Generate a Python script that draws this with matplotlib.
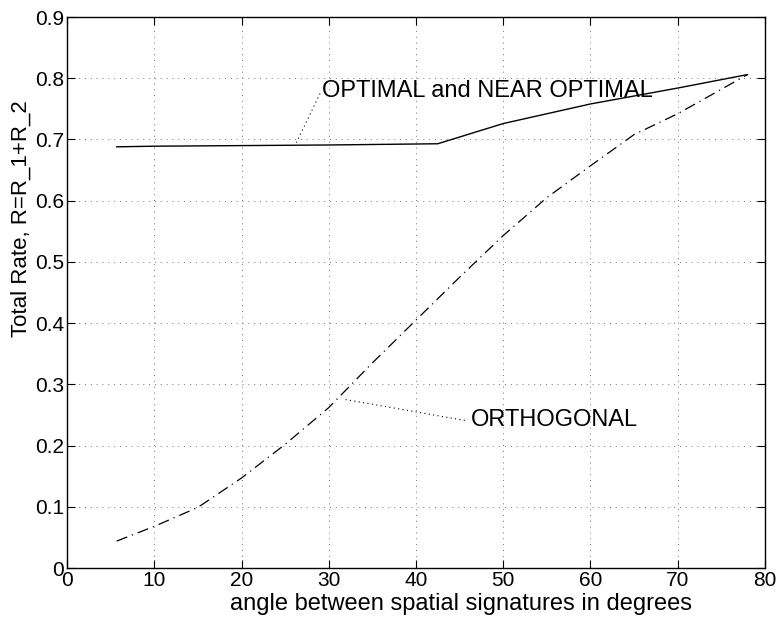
import matplotlib
matplotlib.use("Agg")
import matplotlib.pyplot as plt

plt.rcParams['font.family'] = ['Liberation Sans', 'DejaVu Sans']

# angle (degrees) vs total rate
opt_x = [5.7, 10, 20, 30, 42.5, 50, 60, 70, 78]
opt_y = [0.688, 0.689, 0.690, 0.691, 0.693, 0.726, 0.758, 0.784, 0.806]

orth_x = [5.7, 10, 15, 20, 25, 30, 35, 40, 45, 50, 55, 60, 65, 70, 75, 78]
orth_y = [0.044, 0.068, 0.099, 0.147, 0.202, 0.262, 0.335, 0.405, 0.475,
          0.543, 0.605, 0.657, 0.708, 0.742, 0.782, 0.806]

fig = plt.figure(figsize=(7.82, 6.17), dpi=100)
ax = fig.add_axes([0.0857, 0.0794, 0.8925, 0.893])

ax.plot(opt_x, opt_y, color='k', lw=1.0)
ax.plot(orth_x, orth_y, color='k', lw=0.9, linestyle=(0, (9, 4, 1, 4)))

# labels with dotted leaders
ax.plot([29.0, 26.2], [0.775, 0.692], color='k', lw=0.8, linestyle=(0, (1, 3)))
ax.text(29.2, 0.779, "OPTIMAL and NEAR OPTIMAL", fontsize=17, va='center', ha='left')
ax.plot([45.6, 31.6], [0.241, 0.276], color='k', lw=0.8, linestyle=(0, (1, 3)))
ax.text(46.3, 0.241, "ORTHOGONAL", fontsize=17, va='center', ha='left')

ax.set_xlim(0, 80)
ax.set_ylim(0, 0.9)
ax.set_xticks(range(0, 81, 10))
ax.set_yticks([i / 10 for i in range(10)])
ax.set_yticklabels(['0', '0.1', '0.2', '0.3', '0.4', '0.5', '0.6', '0.7', '0.8', '0.9'])
ax.tick_params(direction='in', top=True, right=True, labelsize=15, length=6, width=0.8, pad=2)
ax.grid(True, color='0.45', linestyle=(0, (1, 5)), lw=0.7)
for s in ax.spines.values():
    s.set_linewidth(1.0)

ax.set_xlabel("angle between spatial signatures in degrees", fontsize=17)
ax.xaxis.set_label_coords(0.564, -0.045)
ax.set_ylabel("Total Rate, R=R_1+R_2", fontsize=16)
ax.yaxis.set_label_coords(-0.05, 0.635)

fig.savefig("out.png", dpi=100)
